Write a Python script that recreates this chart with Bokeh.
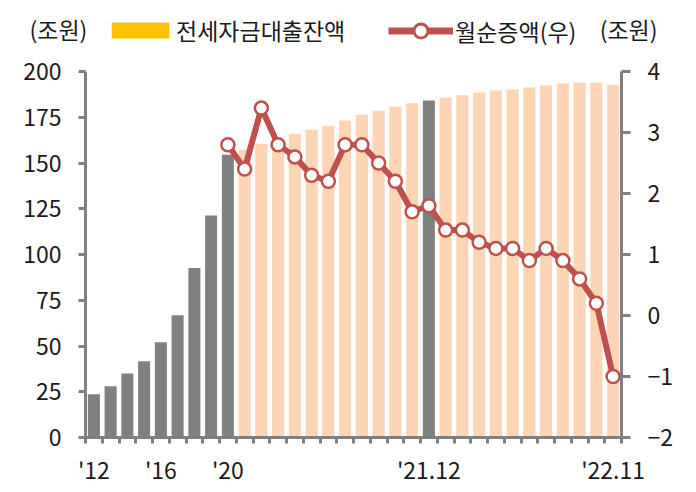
from bokeh.plotting import figure
from bokeh.layouts import column
from bokeh.models import (Range1d, LinearAxis, FixedTicker, Legend, LegendItem,
                          Label, ColumnDataSource)
from bokeh.embed import file_html
from bokeh.resources import INLINE

# ---- data ----
categories = ["'12", "'13", "'14", "'15", "'16", "'17", "'18", "'19", "'20",
              "'21.1", "'21.2", "'21.3", "'21.4", "'21.5", "'21.6", "'21.7", "'21.8",
              "'21.9", "'21.10", "'21.11", "'21.12",
              "'22.1", "'22.2", "'22.3", "'22.4", "'22.5", "'22.6", "'22.7", "'22.8",
              "'22.9", "'22.10", "'22.11"]
balance = [23.6, 28.0, 35.0, 41.6, 52.0, 66.8, 92.6, 121.3, 154.5,
           157.3, 160.5, 163.0, 166.0, 168.2, 170.4, 173.2, 176.4, 178.6, 180.8, 182.6, 184.1,
           185.7, 187.0, 188.5, 189.6, 190.1, 191.2, 192.3, 193.4, 193.9, 193.9, 192.8]
line_categories = categories[categories.index("'20"):]
net_change = [2.8, 2.4, 3.4, 2.8, 2.6, 2.3, 2.2, 2.8, 2.8, 2.5, 2.2, 1.7, 1.8,
              1.4, 1.4, 1.2, 1.1, 1.1, 0.9, 1.1, 0.9, 0.6, 0.2, -1.0]
tick_labels = ["'12", "'16", "'20", "'21.12", "'22.11"]
left_ticks = [0, 25, 50, 75, 100, 125, 150, 175, 200]
right_ticks = [-2, -1, 0, 1, 2, 3, 4]
gray_cats = set(categories[:categories.index("'20") + 1]) | {"'21.12"}
bar_name = "전세자금대출잔액"
line_name = "월순증액(우)"
unit = "(조원)"

# ---- styles ----
FONT = "Noto Sans CJK KR"
GRAY = "#808080"
PEACH = "#FCD5B5"
GOLD = "#FFC000"
RED = "#C0504D"
TXT = "#1a1a1a"
NAN = float("nan")

xs = list(range(len(categories)))
colors = [GRAY if c in gray_cats else PEACH for c in categories]
bar_src = ColumnDataSource(dict(x=xs, top=balance, color=colors))
lx = [categories.index(c) for c in line_categories]
line_src = ColumnDataSource(dict(x=lx, y=net_change))

# ---- main chart ----
p = figure(width=696, height=442, output_backend="svg", toolbar_location=None,
           x_range=Range1d(-0.5, len(categories) - 0.5), y_range=Range1d(0, 200),
           min_border_left=85, min_border_right=75, min_border_top=21, min_border_bottom=55)
p.frame_align = False
p.extra_y_ranges = {"right": Range1d(-2, 4)}
p.xgrid.visible = False
p.ygrid.visible = False
p.outline_line_color = None

p.vbar(x="x", top="top", width=0.72, source=bar_src, fill_color="color", line_color=None)
p.line(x="x", y="y", source=line_src, y_range_name="right", line_color=RED, line_width=6)
p.scatter(x="x", y="y", source=line_src, y_range_name="right", size=13,
          fill_color="white", line_color=RED, line_width=2.5)

def style_axis(ax):
    ax.axis_line_color = GRAY
    ax.axis_line_width = 3
    ax.major_tick_line_color = GRAY
    ax.major_tick_line_width = 3
    ax.major_tick_in = 0
    ax.minor_tick_line_color = None
    ax.major_label_text_font = FONT
    ax.major_label_text_font_size = "23px"
    ax.major_label_text_color = TXT

ly = p.yaxis[0]
style_axis(ly)
ly.ticker = FixedTicker(ticks=left_ticks)
ly.major_tick_out = 7
ly.major_label_standoff = 17

ry = LinearAxis(y_range_name="right")
style_axis(ry)
ry.ticker = FixedTicker(ticks=right_ticks)
ry.major_tick_out = 9
ry.major_label_standoff = 17
ry.major_label_overrides = {t: ("\u2212" + str(-t)) for t in right_ticks if t < 0}
p.add_layout(ry, "right")

bx = p.xaxis[0]
style_axis(bx)
major_x = [categories.index(c) for c in tick_labels]
bx.ticker = FixedTicker(ticks=major_x, minor_ticks=[i - 0.5 for i in range(len(categories) + 1)])
bx.major_tick_line_color = None
bx.minor_tick_line_color = GRAY
bx.minor_tick_line_width = 3
bx.minor_tick_in = 0
bx.minor_tick_out = 6
bx.major_tick_out = 6
bx.major_label_standoff = 8
bx.major_label_overrides = {categories.index(c): c for c in tick_labels}

# ---- legend strip on top ----
top = figure(width=696, height=50, output_backend="svg", toolbar_location=None,
             x_range=Range1d(0, 696), y_range=Range1d(0, 50),
             min_border=0)
top.frame_align = False
top.axis.visible = False
top.xgrid.visible = False
top.ygrid.visible = False
top.outline_line_color = None

# legend proxies (no visible marks)
dummy_bar = top.vbar(x=[NAN], top=[NAN], width=1, fill_color=GOLD, line_color=None)
dummy_line = top.line(x=[NAN, NAN], y=[NAN, NAN], line_color=RED, line_width=7)
dummy_scat = top.scatter(x=[NAN], y=[NAN], size=14, fill_color="white",
                         line_color=RED, line_width=3)

common = dict(orientation="horizontal", padding=0, margin=0, border_line_color=None,
              background_fill_alpha=0, label_text_font=FONT, label_text_font_size="23px",
              label_text_color=TXT)
leg1 = Legend(items=[LegendItem(label=bar_name, renderers=[dummy_bar])],
              location=(104, 3), glyph_width=72, glyph_height=20, label_standoff=0, **common)
leg2 = Legend(items=[LegendItem(label=line_name, renderers=[dummy_line, dummy_scat])],
              location=(388, 2), glyph_width=65, glyph_height=35, label_standoff=2, **common)
top.add_layout(leg1)
top.add_layout(leg2)

top.add_layout(Label(x=29, y=22, x_units="screen", y_units="screen", text=unit,
                     text_font=FONT, text_font_size="23px", text_color=TXT,
                     text_baseline="middle", text_align="left"))
top.add_layout(Label(x=657, y=22, x_units="screen", y_units="screen", text=unit,
                     text_font=FONT, text_font_size="23px", text_color=TXT,
                     text_baseline="middle", text_align="right"))

open("out.html", "w").write(file_html(column(top, p, spacing=0), INLINE))
